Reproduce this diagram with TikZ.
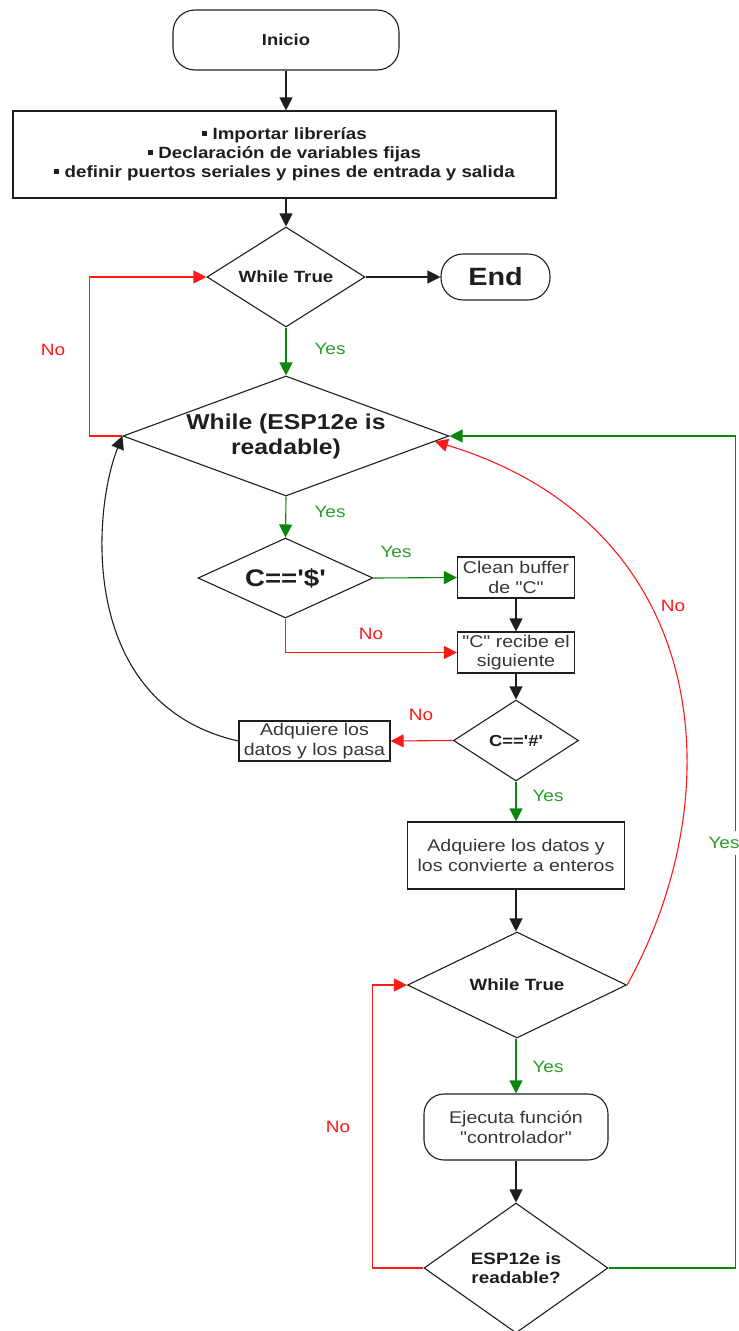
\documentclass[tikz,border=0pt]{standalone}
\usepackage{fontspec}
\setmainfont[FakeStretch=1.15, Ligatures=TeXOff]{Liberation Sans}
\usetikzlibrary{shapes.geometric,arrows.meta,calc}

\definecolor{flowred}{RGB}{255,25,25}
\definecolor{flowgreen}{RGB}{10,135,10}
\definecolor{labgreen}{RGB}{40,160,40}
\definecolor{ink}{RGB}{30,30,30}
\definecolor{softink}{RGB}{55,55,55}

\newcommand\sqbullet{\rule[0.22em]{0.32em}{0.32em}\ }
\newcommand\fs[2]{\fontsize{#1}{#2}\selectfont}

\begin{document}
\begin{tikzpicture}[x=1pt,y=-1pt,
  base/.style={draw=ink, line width=1.1pt, align=center, inner sep=0pt, text=ink},
  term/.style={base, rounded corners=22pt},
  proc/.style={base},
  dec/.style={base, diamond},
  arr/.style={line width=1.1pt, -{Triangle[length=13pt,width=13pt]}},
  flow/.style={arr, draw=ink},
  yesflow/.style={arr, draw=flowgreen},
  noflow/.style={arr, draw=flowred},
  ylab/.style={text=labgreen, font=\fs{16.5}{19}, inner sep=1pt},
  nlab/.style={text=flowred, font=\fs{16.5}{19}, inner sep=1pt},
  rtxt/.style={font=\fs{17}{19.5}, text=softink}
]
\useasboundingbox (0,0) rectangle (739,1331);

% --- main column ---
\node[term, minimum width=226, minimum height=60, font=\fs{16}{18}\bfseries] (start) at (286,40) {Inicio};
\node[proc, minimum width=543, minimum height=87, font=\fs{16.3}{19}\bfseries] (setup) at (284.5,154.5)
  {\sqbullet Importar librerías\\ \sqbullet Declaración de variables fijas\\ \sqbullet definir puertos seriales y pines de entrada y salida};
\node[dec, minimum width=158, minimum height=100, aspect=1.58, font=\fs{16.3}{19}\bfseries] (w1) at (286,277) {While True};
\node[term, minimum width=109, minimum height=46, font=\fs{25}{28}\bfseries] (stop) at (495.5,277) {End};
\node[dec, minimum width=326, minimum height=120, aspect=2.72, font=\fs{21.5}{25}\bfseries] (w2) at (286,436) {While (ESP12e is\\readable)};
\node[dec, minimum width=175, minimum height=80, aspect=2.19, font=\fs{24}{26}\bfseries] (c1) at (285.5,578) {C=='\$'};

% --- right column ---
\node[proc, rtxt, minimum width=117, minimum height=41] (clean) at (516,577.5) {Clean buffer\\de "C"};
\node[proc, rtxt, minimum width=117, minimum height=41] (recv) at (516,652.5) {"C" recibe el\\siguiente};
\node[dec, minimum width=125, minimum height=81, aspect=1.54, font=\fs{16}{19}\bfseries] (c2) at (516,740.5) {C=='\#'};
\node[proc, rtxt, minimum width=151, minimum height=40] (pass) at (314.5,741) {Adquiere los\\datos y los pasa};
\node[proc, rtxt, minimum width=217, minimum height=67, font=\fs{17}{20}] (conv) at (516,855.5) {Adquiere los datos y\\los convierte a enteros};
\node[dec, minimum width=219, minimum height=106, aspect=2.07, font=\fs{16.3}{19}\bfseries] (w3) at (517,985) {While True};
\node[term, rtxt, rounded corners=20pt, minimum width=184, minimum height=66, font=\fs{17}{20}] (ctrl) at (516,1127) {Ejecuta función\\"controlador"};
\node[dec, minimum width=184, minimum height=130, aspect=1.415, font=\fs{16.4}{19}\bfseries] (rd) at (516,1268) {ESP12e is\\readable?};

% --- connectors ---
\draw[flow] (start.south) -- (start.south |- setup.north);
\draw[flow] (w1.north |- setup.south) -- (w1.north);
\draw[flow] (w1.east) -- (stop.west);
\draw[yesflow] (w1.south) -- (w2.north);
\draw[noflow] (w2.west) -- ++(-33,0) |- (w1.west);
\draw[yesflow] (w2.south) -- (c1.north);
\draw[yesflow] (c1.east) -- (clean.west);
\draw[flow] (clean.south) -- (recv.north);
\draw[noflow] (c1.south) |- (recv.west);
\draw[flow] (recv.south) -- (c2.north);
\draw[noflow] (c2.west) -- (pass.east);
\draw[flow] (pass.west) .. controls (78,705) and (92,512) .. (w2.west);
\draw[yesflow] (c2.south) -- (conv.north);
\draw[flow] (conv.south) -- (conv.south |- w3.north);
\draw[noflow] (w3.east) .. controls (735,790) and (710,525) .. ($(w2.east)!0.09!(w2.south)$);
\draw[yesflow] (w3.south -| ctrl.north) -- (ctrl.north);
\draw[flow] (ctrl.south) -- (rd.north);
\draw[noflow] (rd.west) -- ++(-51,0) |- (w3.west);
\draw[yesflow] (rd.east) -- ++(127,0) |- (w2.east);

% --- branch labels ---
\node[ylab] (l1) at (330,349) {Yes};
\node[nlab] (l2) at (53,350) {No};
\node[ylab] (l3) at (330,512) {Yes};
\node[ylab] (l4) at (396,552) {Yes};
\node[nlab] (l5) at (371,634) {No};
\node[nlab] (l6) at (421,715) {No};
\node[ylab] (l7) at (548,796) {Yes};
\node[nlab] (l8) at (673,606) {No};
\node[ylab] (l9) at (548,1067) {Yes};
\node[nlab] (l10) at (338,1127) {No};
\node[ylab, fill=white, inner ysep=6pt] (l11) at (724,843) {Yes};
\end{tikzpicture}
\end{document}
